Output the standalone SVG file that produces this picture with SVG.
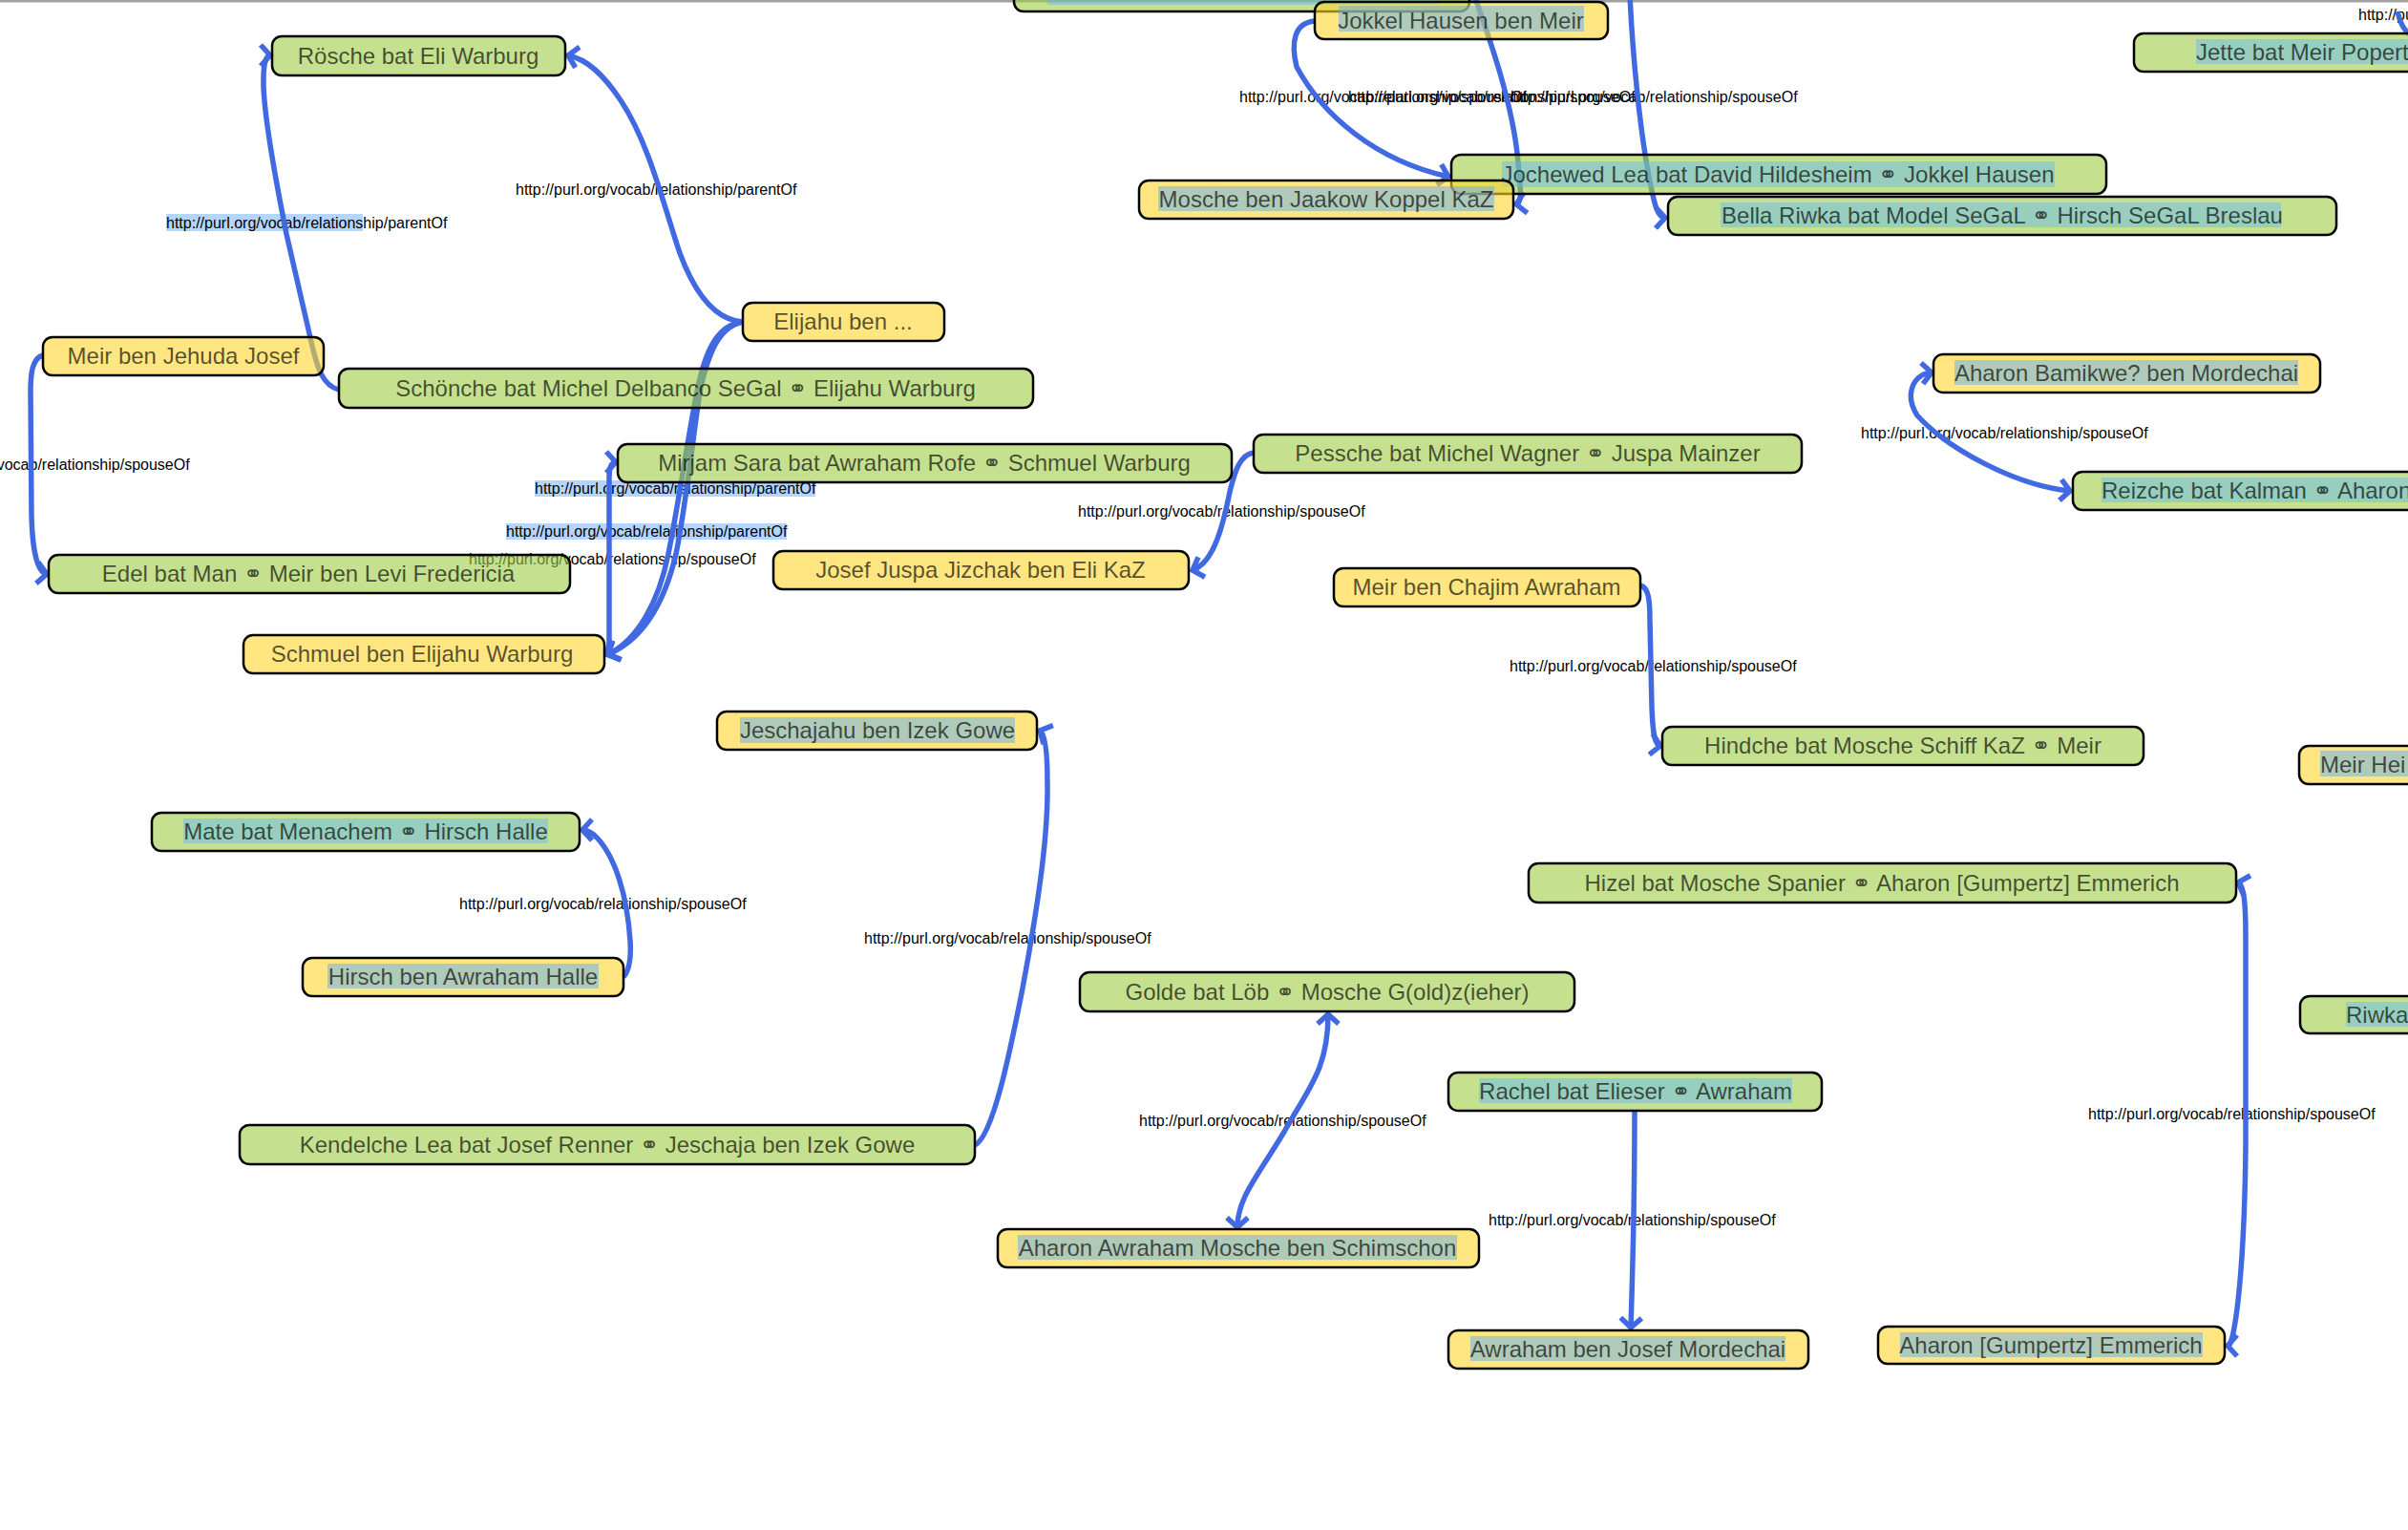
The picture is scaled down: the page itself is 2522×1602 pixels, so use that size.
<svg xmlns="http://www.w3.org/2000/svg" width="2522" height="1602" viewBox="0 0 2522 1602">
<style>
.box{stroke:#000;stroke-width:2.5}
.green .box{fill:#9ecb43;fill-opacity:0.6}
.yellow .box{fill:#ffd52b;fill-opacity:0.6}
.green .hl{fill:#5ab4ff;fill-opacity:0.42}
.yellow .hl{fill:#4fa8ff;fill-opacity:0.45}
.node text{font-family:"Liberation Sans","DejaVu Sans",Arial,sans-serif;font-size:24px;fill:#000;fill-opacity:0.66;text-anchor:middle}
.node text.st{text-anchor:start}
.lbl{font-family:"Liberation Sans",Arial,sans-serif;font-size:16px;fill:#000}
.lhl{fill:#b4d5fe}
.edge{fill:none;stroke:#4169e1;stroke-width:5.5}
.one{marker-end:url(#arr)}
.two{marker-start:url(#arr);marker-end:url(#arr)}
</style>
<defs>
<marker id="arr" markerUnits="userSpaceOnUse" viewBox="-15 -15 30 30" markerWidth="30" markerHeight="30" refX="0" refY="0" orient="auto-start-reverse" overflow="visible">
<path d="M-10,-11 L0,0 L-10,11" fill="none" stroke="#4169e1" stroke-width="5.5"/>
</marker>
</defs>
<rect x="0" y="0" width="2522" height="1602" fill="#fff"/>
<rect x="0" y="0" width="2522" height="2.5" fill="#a0a0a0"/>

<g id="connectors">
<g id="edge-labels">
<rect class="lhl" x="174" y="224" width="206" height="18"/>
<rect class="lhl" x="560" y="503" width="294" height="17"/>
<rect class="lhl" x="530" y="548" width="294" height="17"/>
<text class="lbl" x="540" y="204">http://purl.org/vocab/relationship/parentOf</text>
<text class="lbl" x="174" y="239">http://purl.org/vocab/relationship/parentOf</text>
<text class="lbl" x="-102" y="492">http://purl.org/vocab/relationship/spouseOf</text>
<text class="lbl" x="560" y="517">http://purl.org/vocab/relationship/parentOf</text>
<text class="lbl" x="530" y="562">http://purl.org/vocab/relationship/parentOf</text>
<text class="lbl" x="491" y="591">http://purl.org/vocab/relationship/spouseOf</text>
<text class="lbl" x="1129" y="541">http://purl.org/vocab/relationship/spouseOf</text>
<text class="lbl" x="1298" y="107">http://purl.org/vocab/relationship/spouseOf</text>
<text class="lbl" x="1412" y="107">http://purl.org/vocab/relationship/spouseOf</text>
<text class="lbl" x="1582" y="107">http://purl.org/vocab/relationship/spouseOf</text>
<text class="lbl" x="1949" y="459">http://purl.org/vocab/relationship/spouseOf</text>
<text class="lbl" x="2470" y="21">http://pu</text>
<text class="lbl" x="1581" y="703">http://purl.org/vocab/relationship/spouseOf</text>
<text class="lbl" x="481" y="952">http://purl.org/vocab/relationship/spouseOf</text>
<text class="lbl" x="905" y="988">http://purl.org/vocab/relationship/spouseOf</text>
<text class="lbl" x="1193" y="1179">http://purl.org/vocab/relationship/spouseOf</text>
<text class="lbl" x="1559" y="1283">http://purl.org/vocab/relationship/spouseOf</text>
<text class="lbl" x="2187" y="1172">http://purl.org/vocab/relationship/spouseOf</text>
</g>
<path id="e-schonche-rosche" class="edge one" d="M355,408 C338,404 332,385 326,358 L300,245 C285,170 275,110 276,82 C276,66 279,58 283,58"/>
<path id="e-elijahu-rosche" class="edge one" d="M778,337 C745,335 725,300 712,265 C695,215 680,150 650,105 C632,78 615,62 595,58"/>
<path id="e-elijahu-schmuel-a" class="edge one" d="M778,337 C750,340 738,370 730,410 C720,460 712,520 700,580 C690,630 668,670 637,685"/>
<path id="e-elijahu-schmuel-b" class="edge one" d="M778,337 C752,342 742,372 734,405 C727,445 720,520 708,580 C695,635 672,670 637,685"/>
<path id="e-mirjam-schmuel" class="edge two" d="M645,484 C640,484 638,490 638,500 L638,670 C638,680 637,684 635,685"/>
<path id="e-meir-edel" class="edge one" d="M45,372 C34,375 32,390 32,410 L33,540 C34,580 40,600 49,601"/>
<path id="e-jokkel-jochewed" class="edge one" d="M1377,22 C1355,24 1352,45 1358,70 C1385,120 1440,168 1517,185"/>
<path id="e-top-mosche" class="edge one" d="M1544,-5 C1560,40 1585,110 1590,170 C1593,200 1594,213 1588,214"/>
<path id="e-top-bella" class="edge one" d="M1707,-5 C1710,60 1718,140 1728,190 C1733,215 1736,228 1744,228"/>
<path id="e-top-right" class="edge" d="M2511,12 C2514,25 2518,32 2526,38"/>
<path id="e-aharonb-reizche" class="edge two" d="M2023,390 C2002,392 1995,415 2008,435 C2040,470 2110,508 2168,514"/>
<path id="e-pessche-josef" class="edge one" d="M1313,474 C1298,476 1293,495 1288,515 C1280,555 1270,590 1249,597"/>
<path id="e-meirc-hindche" class="edge one" d="M1718,613 C1727,615 1728,630 1728,650 L1730,740 C1731,768 1733,780 1739,781"/>
<path id="e-kendelche-jeschajahu" class="edge one" d="M1021,1199 C1040,1190 1058,1100 1070,1040 C1085,960 1098,880 1097,820 C1097,790 1095,768 1089,765"/>
<path id="e-hirsch-mate" class="edge one" d="M653,1023 C660,1015 661,1000 660,985 C657,940 645,895 622,874 C617,870 614,869 610,869"/>
<path id="e-golde-aharona" class="edge two" d="M1391,1062 C1391,1120 1370,1140 1345,1185 C1315,1235 1296,1255 1296,1285"/>
<path id="e-rachel-awraham" class="edge one" d="M1712,1164 C1712,1250 1710,1330 1708,1390"/>
<path id="e-hizel-aharone" class="edge two" d="M2344,924 C2350,926 2352,945 2352,980 L2352,1200 C2351,1300 2345,1370 2338,1400 C2336,1407 2335,1409 2333,1409"/>
</g>

<g id="n-top" class="node green"><rect class="box" x="1062" y="-30" width="477" height="42" rx="10"/><rect class="hl" x="1097" y="-20" width="410" height="25"/></g>
<g id="n-jokkel" class="node yellow"><rect class="box" x="1377" y="2" width="307" height="39" rx="10"/><rect class="hl" x="1402" y="6" width="257" height="27"/><text x="1530" y="30">Jokkel Hausen ben Meir</text></g>
<g id="n-jochewed" class="node green"><rect class="box" x="1520" y="162" width="686" height="41" rx="10"/><rect class="hl" x="1573" y="169" width="579" height="27"/><text x="1862" y="191">Jochewed Lea bat David Hildesheim ⚭ Jokkel Hausen</text></g>
<g id="n-mosche-koppel" class="node yellow"><rect class="box" x="1193" y="189" width="392" height="40" rx="10"/><rect class="hl" x="1213" y="195" width="352" height="26"/><text x="1389" y="217">Mosche ben Jaakow Koppel KaZ</text></g>
<g id="n-bella" class="node green"><rect class="box" x="1747" y="206" width="700" height="40" rx="10"/><rect class="hl" x="1802" y="212" width="587" height="26"/><text x="2097" y="234">Bella Riwka bat Model SeGaL ⚭ Hirsch SeGaL Breslau</text></g>
<g id="n-jette" class="node green"><rect class="box" x="2235" y="35" width="400" height="40" rx="10"/><rect class="hl" x="2300" y="41" width="230" height="26"/><text class="st" x="2300" y="63">Jette bat Meir Popert</text></g>
<g id="n-aharon-bamikwe" class="node yellow"><rect class="box" x="2025" y="371" width="405" height="40" rx="10"/><rect class="hl" x="2047" y="377" width="360" height="26"/><text x="2227" y="399">Aharon Bamikwe? ben Mordechai</text></g>
<g id="n-reizche" class="node green"><rect class="box" x="2171" y="494" width="400" height="40" rx="10"/><rect class="hl" x="2201" y="500" width="330" height="26"/><text class="st" x="2201" y="522">Reizche bat Kalman ⚭ Aharon</text></g>
<g id="n-pessche" class="node green"><rect class="box" x="1313" y="455" width="574" height="40" rx="10"/><text x="1600" y="483">Pessche bat Michel Wagner ⚭ Juspa Mainzer</text></g>
<g id="n-josef-juspa" class="node yellow"><rect class="box" x="810" y="577" width="435" height="40" rx="10"/><text x="1027" y="605">Josef Juspa Jizchak ben Eli KaZ</text></g>
<g id="n-meir-chajim" class="node yellow"><rect class="box" x="1397" y="595" width="321" height="40" rx="10"/><text x="1557" y="623">Meir ben Chajim Awraham</text></g>
<g id="n-hindche" class="node green"><rect class="box" x="1741" y="761" width="504" height="40" rx="10"/><text x="1993" y="789">Hindche bat Mosche Schiff KaZ ⚭ Meir</text></g>
<g id="n-meir-hei" class="node yellow"><rect class="box" x="2408" y="781" width="200" height="40" rx="10"/><rect class="hl" x="2430" y="786" width="100" height="27"/><text class="st" x="2430" y="809">Meir Hei</text></g>
<g id="n-hizel" class="node green"><rect class="box" x="1601" y="904" width="741" height="41" rx="10"/><text x="1971" y="933">Hizel bat Mosche Spanier ⚭ Aharon [Gumpertz] Emmerich</text></g>
<g id="n-riwka" class="node green"><rect class="box" x="2409" y="1043" width="200" height="39" rx="10"/><rect class="hl" x="2457" y="1049" width="80" height="26"/><text class="st" x="2457" y="1071">Riwka</text></g>
<g id="n-aharon-emmerich" class="node yellow"><rect class="box" x="1967" y="1389" width="363" height="39" rx="10"/><rect class="hl" x="1990" y="1395" width="317" height="26"/><text x="2148" y="1417">Aharon [Gumpertz] Emmerich</text></g>
<g id="n-rachel" class="node green"><rect class="box" x="1517" y="1123" width="391" height="40" rx="10"/><rect class="hl" x="1549" y="1129" width="328" height="26"/><text x="1713" y="1151">Rachel bat Elieser ⚭ Awraham</text></g>
<g id="n-awraham-josef" class="node yellow"><rect class="box" x="1517" y="1393" width="377" height="40" rx="10"/><rect class="hl" x="1540" y="1399" width="330" height="26"/><text x="1705" y="1421">Awraham ben Josef Mordechai</text></g>
<g id="n-golde" class="node green"><rect class="box" x="1131" y="1018" width="518" height="41" rx="10"/><text x="1390" y="1047">Golde bat Löb ⚭ Mosche G(old)z(ieher)</text></g>
<g id="n-aharon-awraham" class="node yellow"><rect class="box" x="1045" y="1287" width="504" height="40" rx="10"/><rect class="hl" x="1066" y="1293" width="460" height="26"/><text x="1296" y="1315">Aharon Awraham Mosche ben Schimschon</text></g>
<g id="n-kendelche" class="node green"><rect class="box" x="251" y="1178" width="770" height="41" rx="10"/><text x="636" y="1207">Kendelche Lea bat Josef Renner ⚭ Jeschaja ben Izek Gowe</text></g>
<g id="n-hirsch-awraham" class="node yellow"><rect class="box" x="317" y="1003" width="336" height="40" rx="10"/><rect class="hl" x="343" y="1009" width="284" height="26"/><text x="485" y="1031">Hirsch ben Awraham Halle</text></g>
<g id="n-mate" class="node green"><rect class="box" x="159" y="851" width="448" height="40" rx="10"/><rect class="hl" x="192" y="857" width="382" height="26"/><text x="383" y="879">Mate bat Menachem ⚭ Hirsch Halle</text></g>
<g id="n-jeschajahu" class="node yellow"><rect class="box" x="751" y="745" width="335" height="40" rx="10"/><rect class="hl" x="775" y="751" width="288" height="27"/><text x="919" y="773">Jeschajahu ben Izek Gowe</text></g>
<g id="n-schmuel" class="node yellow"><rect class="box" x="255" y="665" width="378" height="40" rx="10"/><text x="442" y="693">Schmuel ben Elijahu Warburg</text></g>
<g id="n-edel" class="node green"><rect class="box" x="51" y="581" width="546" height="40" rx="10"/><text x="323" y="609">Edel bat Man ⚭ Meir ben Levi Fredericia</text></g>
<g id="n-mirjam" class="node green"><rect class="box" x="647" y="465" width="643" height="40" rx="10"/><text x="968" y="493">Mirjam Sara bat Awraham Rofe ⚭ Schmuel Warburg</text></g>
<g id="n-schonche" class="node green"><rect class="box" x="355" y="386" width="727" height="41" rx="10"/><text x="718" y="415">Schönche bat Michel Delbanco SeGal ⚭ Elijahu Warburg</text></g>
<g id="n-elijahu" class="node yellow"><rect class="box" x="778" y="317" width="211" height="40" rx="10"/><text x="883" y="345">Elijahu ben ...</text></g>
<g id="n-meir-jehuda" class="node yellow"><rect class="box" x="45" y="353" width="294" height="40" rx="10"/><text x="192" y="381">Meir ben Jehuda Josef</text></g>
<g id="n-rosche" class="node green"><rect class="box" x="285" y="38" width="307" height="41" rx="10"/><text x="438" y="67">Rösche bat Eli Warburg</text></g>
</svg>
